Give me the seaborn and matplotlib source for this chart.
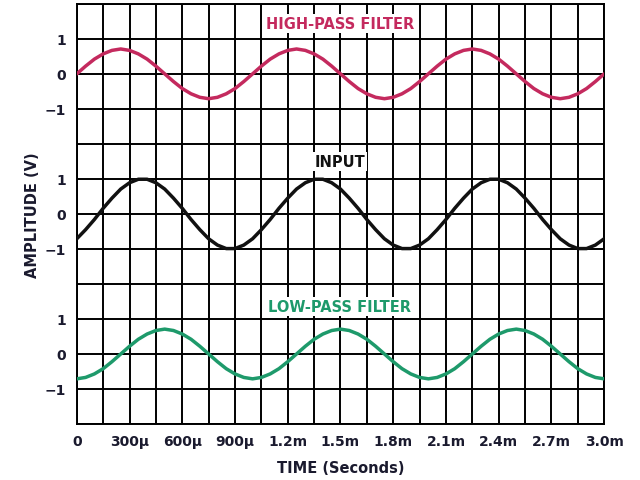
import numpy as np
import pandas as pd
import matplotlib
matplotlib.use("Agg")
import matplotlib.pyplot as plt
import seaborn as sns

# time samples in ms (every 50 µs from 0 to 3.0 ms)
time_ms = [round(0.05 * i, 2) for i in range(61)]

high_pass = [0.00, 0.22, 0.42, 0.57, 0.67, 0.71, 0.67, 0.57, 0.42, 0.22,
             0.00, -0.22, -0.42, -0.57, -0.67, -0.71, -0.67, -0.57, -0.42, -0.22,
             0.00, 0.22, 0.42, 0.57, 0.67, 0.71, 0.67, 0.57, 0.42, 0.22,
             0.00, -0.22, -0.42, -0.57, -0.67, -0.71, -0.67, -0.57, -0.42, -0.22,
             0.00, 0.22, 0.42, 0.57, 0.67, 0.71, 0.67, 0.57, 0.42, 0.22,
             0.00, -0.22, -0.42, -0.57, -0.67, -0.71, -0.67, -0.57, -0.42, -0.22,
             0.00]

input_sig = [-0.71, -0.45, -0.16, 0.16, 0.45, 0.71, 0.89, 0.99, 0.99, 0.89,
             0.71, 0.45, 0.16, -0.16, -0.45, -0.71, -0.89, -0.99, -0.99, -0.89,
             -0.71, -0.45, -0.16, 0.16, 0.45, 0.71, 0.89, 0.99, 0.99, 0.89,
             0.71, 0.45, 0.16, -0.16, -0.45, -0.71, -0.89, -0.99, -0.99, -0.89,
             -0.71, -0.45, -0.16, 0.16, 0.45, 0.71, 0.89, 0.99, 0.99, 0.89,
             0.71, 0.45, 0.16, -0.16, -0.45, -0.71, -0.89, -0.99, -0.99, -0.89,
             -0.71]

low_pass = [-0.71, -0.67, -0.57, -0.42, -0.22, 0.00, 0.22, 0.42, 0.57, 0.67,
            0.71, 0.67, 0.57, 0.42, 0.22, 0.00, -0.22, -0.42, -0.57, -0.67,
            -0.71, -0.67, -0.57, -0.42, -0.22, 0.00, 0.22, 0.42, 0.57, 0.67,
            0.71, 0.67, 0.57, 0.42, 0.22, 0.00, -0.22, -0.42, -0.57, -0.67,
            -0.71, -0.67, -0.57, -0.42, -0.22, 0.00, 0.22, 0.42, 0.57, 0.67,
            0.71, 0.67, 0.57, 0.42, 0.22, 0.00, -0.22, -0.42, -0.57, -0.67,
            -0.71]

series_names = ["HIGH-PASS FILTER", "INPUT", "LOW-PASS FILTER"]
series_offsets = [10, 6, 2]
series_label_y = [11.43, 7.5, 3.35]
series_colors = ["#C42A5E", "#111111", "#1E9A6B"]

x_tick_pos = [0, 0.3, 0.6, 0.9, 1.2, 1.5, 1.8, 2.1, 2.4, 2.7, 3.0]
x_tick_labels = ["0", "300\u00b5", "600\u00b5", "900\u00b5", "1.2m", "1.5m",
                 "1.8m", "2.1m", "2.4m", "2.7m", "3.0m"]
y_tick_labels = ["\u22121", "0", "1"]

sns.set_theme(style="white")
plt.rcParams["font.family"] = ["DejaVu Sans"]

fig = plt.figure(figsize=(6.4, 4.81), dpi=100)
ax = fig.add_axes([0.120, 0.1164, 0.824, 0.8736])

frames = []
for name, vals, off in zip(series_names, [high_pass, input_sig, low_pass], series_offsets):
    frames.append(pd.DataFrame({"t": time_ms, "v": np.array(vals) + off, "s": name}))
df = pd.concat(frames)

# grid
for xv in np.arange(0, 3.0001, 0.15):
    ax.axvline(xv, color="black", lw=1.4, zorder=1)
for yv in range(0, 13):
    ax.axhline(yv, color="black", lw=1.4, zorder=1)

sns.lineplot(data=df, x="t", y="v", hue="s", palette=dict(zip(series_names, series_colors)),
             linewidth=2.5, legend=False, ax=ax, zorder=3, sort=False, estimator=None)

for name, ly, col in zip(series_names, series_label_y, series_colors):
    ax.text(1.497, ly, name, color=col, fontsize=10.5, fontweight="bold",
            ha="center", va="center", zorder=4,
            bbox=dict(facecolor="white", edgecolor="none", pad=1.5))

txt_col = "#1a1a2e"
ax.set_xlim(0, 3.0)
ax.set_ylim(0, 12)
ax.set_xticks(x_tick_pos)
ax.set_xticklabels(x_tick_labels, fontsize=10, fontweight="bold", color=txt_col)
yt = []
ytl = []
for off in series_offsets:
    for k, lab in zip([-1, 0, 1], y_tick_labels):
        yt.append(off + k)
        ytl.append(lab)
ax.set_yticks(yt)
ax.set_yticklabels(ytl, fontsize=10, fontweight="bold", color=txt_col)
ax.tick_params(axis="x", length=0, pad=7)
ax.tick_params(axis="y", length=0, pad=8)
ax.set_xlabel("TIME (Seconds)", fontsize=10.5, fontweight="bold", color=txt_col, labelpad=9)
ax.set_ylabel("AMPLITUDE (V)", fontsize=10.5, fontweight="bold", color=txt_col, labelpad=3)
for sp in ax.spines.values():
    sp.set_color("black")
    sp.set_linewidth(1.4)

fig.savefig("out.png", dpi=100)
